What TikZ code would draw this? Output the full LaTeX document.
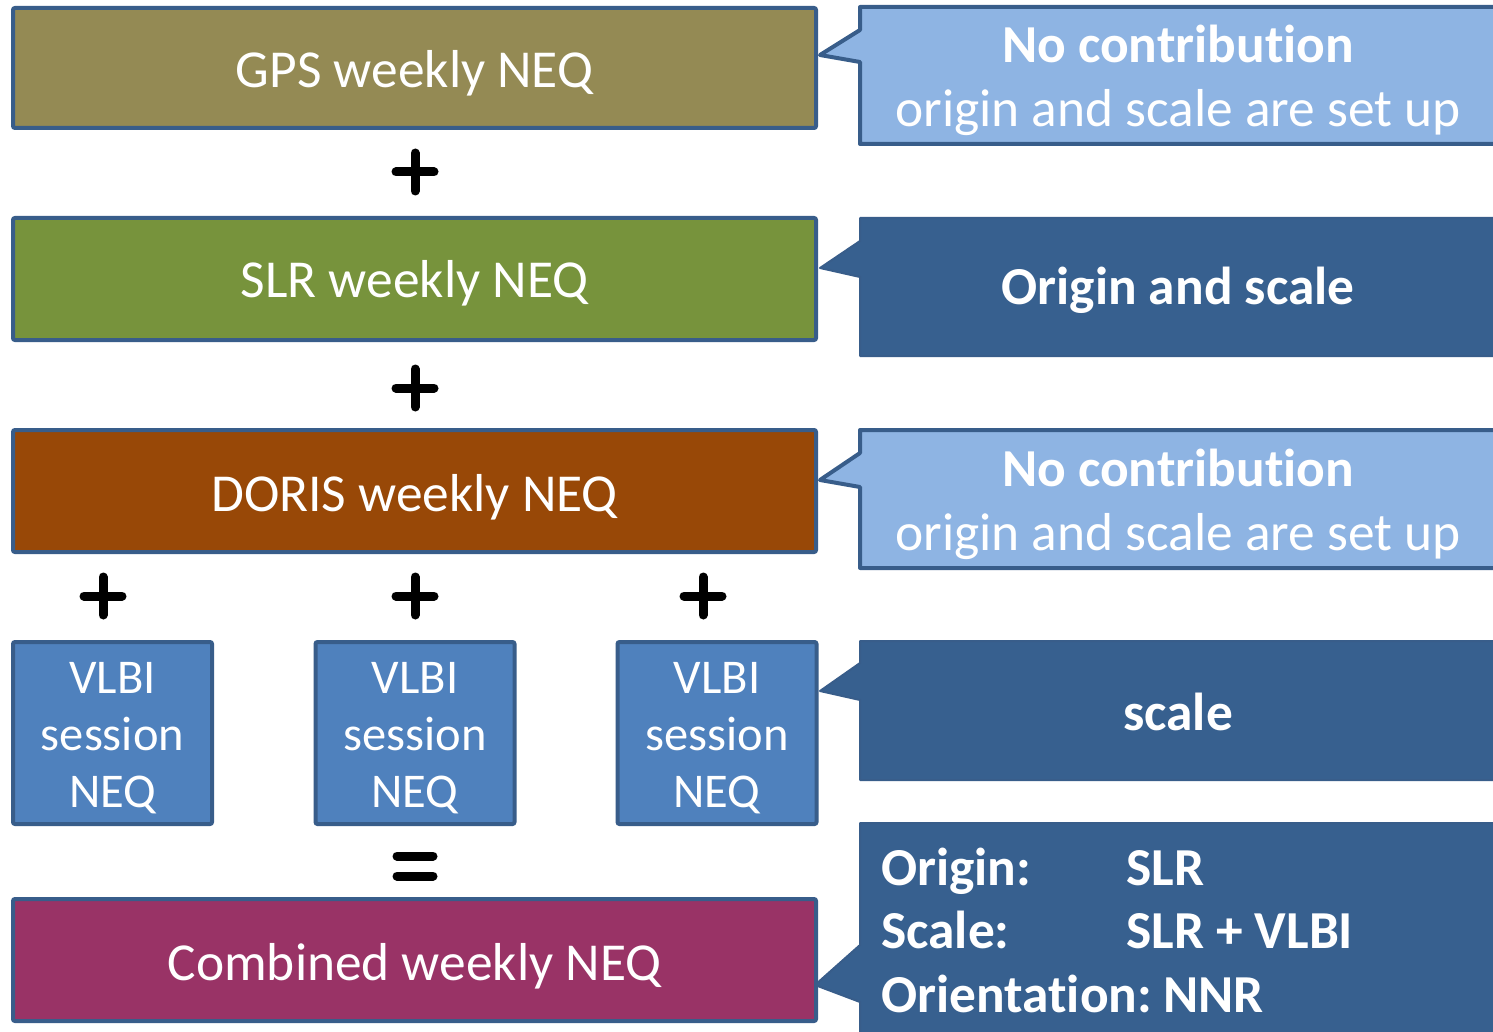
\documentclass[tikz,border=0pt]{standalone}
\usepackage{fontspec}
\setmainfont{Carlito}[Ligatures=NoCommon,RawFeature={-clig;-calt}]
\newcommand{\nti}{t\kern0pt i}
\begin{document}
\begin{tikzpicture}[x=1pt,y=-1pt,
  bord/.style={draw=bordc,line width=4pt,rounded corners=2pt},
  neqbox/.style={bord,minimum width=803pt,minimum height=120pt,inner sep=0pt},
  vlbibox/.style={bord,fill=vlbic,minimum width=199pt,minimum height=182pt,inner sep=0pt},
  txt/.style={text=white,font=\fontsize{53.4}{57}\selectfont,inner sep=0pt,anchor=base},
  vtxt/.style={text=white,font=\fontsize{48.5}{57}\selectfont,inner sep=0pt,anchor=base},
  btxt/.style={text=white,font=\fontsize{53.4}{64}\selectfont\bfseries,inner sep=0pt,anchor=base},
  callL/.style={draw=bordc,line width=4pt,fill=lightc,line join=round},
  callD/.style={draw=bordc,line width=2pt,fill=darkc,line join=round},
  opsign/.style={line width=9pt,line cap=round}]
\definecolor{bordc}{HTML}{385D8A}
\definecolor{gpsc}{HTML}{948A54}
\definecolor{slrc}{HTML}{77933C}
\definecolor{dorisc}{HTML}{984807}
\definecolor{vlbic}{HTML}{4F81BD}
\definecolor{combc}{HTML}{993366}
\definecolor{lightc}{HTML}{8EB4E3}
\definecolor{darkc}{HTML}{37608F}
\useasboundingbox (0,0) rectangle (1493,1032);
\clip (0,0) rectangle (1493,1032);
\fill[white] (0,0) rectangle (1493,1032);
% left boxes
\node[neqbox,fill=gpsc] (gps) at (414.5,68) {};
\node[neqbox,fill=slrc,minimum height=122pt] (slr) at (414.5,279) {};
\node[neqbox,fill=dorisc,minimum height=122pt] (doris) at (414.5,491) {};
\node[vlbibox] (v1) at (112.5,733) {};
\node[vlbibox] (v2) at (415,733) {};
\node[vlbibox] (v3) at (717,733) {};
\node[neqbox,fill=combc,minimum height=122pt] (comb) at (414.5,960) {};
\node[txt] (gpst) at (414.5,88) {GPS weekly NEQ};
\node[txt] (slrt) at (414.5,298) {SLR weekly NEQ};
\node[txt] (dorist) at (414.5,511) {DORIS weekly NEQ};
\node[txt] (combt) at (414.5,980) {Combined weekly NEQ};
\foreach \n/\x in {a/112.5,b/415,c/717}{
  \node[vtxt] (v\n1) at (\x,693) {VLBI};
  \node[vtxt] (v\n2) at (\x,750) {session};
  \node[vtxt] (v\n3) at (\x,807) {NEQ};
}
% operators
\foreach \n/\x/\y in {p1/415/172,p2/415/388,p3/103/596,p4/415/596,p5/703/596}{
  \coordinate (\n) at (\x,\y);
  \draw[opsign] ([xshift=-19pt]\n) -- ([xshift=19pt]\n);
  \draw[opsign] ([yshift=-19pt]\n) -- ([yshift=19pt]\n);
}
\coordinate (eq) at (415,866);
\draw[opsign] ([xshift=-18pt,yshift=-10pt]eq) -- ([xshift=18pt,yshift=-10pt]eq);
\draw[opsign] ([xshift=-18pt,yshift=10pt]eq) -- ([xshift=18pt,yshift=10pt]eq);
% callouts
\draw[callL] (860,7) -- (1510,7) -- (1510,144) -- (860,144) -- (860,62) -- (820,55) -- (860,30) -- cycle;
\node[btxt] (c1a) at (1178,63) {No contribu\nti on};
\node[txt] (c1b) at (1178,127) {origin and scale are set up};
\draw[callD] (860,218) -- (1510,218) -- (1510,356) -- (860,356) -- (860,277) -- (820,268) -- (860,241) -- cycle;
\node[btxt] (c2) at (1178,305) {Origin and scale};
\draw[callL] (860,430) -- (1510,430) -- (1510,568) -- (860,568) -- (860,487) -- (820,480) -- (860,453) -- cycle;
\node[btxt] (c3a) at (1178,486) {No contribu\nti on};
\node[txt] (c3b) at (1178,550) {origin and scale are set up};
\draw[callD] (860,641) -- (1510,641) -- (1510,780) -- (860,780) -- (860,700) -- (820,691) -- (860,663) -- cycle;
\node[btxt] (c4) at (1178,730) {scale};
\draw[callD] (860,823) -- (1510,823) -- (1510,1050) -- (860,1050) -- (860,1002) -- (815,985) -- (860,945) -- cycle;
\node[btxt,anchor=base west] (c5a) at (881,885) {Origin:};
\node[btxt,anchor=base west] (c5b) at (881,948) {Scale:};
\node[btxt,anchor=base west] (c5c) at (881,1012) {Orienta\nti on:};
\node[btxt,anchor=base west] (c5f) at (1163,1012) {NNR};
\node[btxt,anchor=base west] (c5d) at (1126,885) {SLR};
\node[btxt,anchor=base west] (c5e) at (1126,948) {SLR + VLBI};
\end{tikzpicture}
\end{document}
